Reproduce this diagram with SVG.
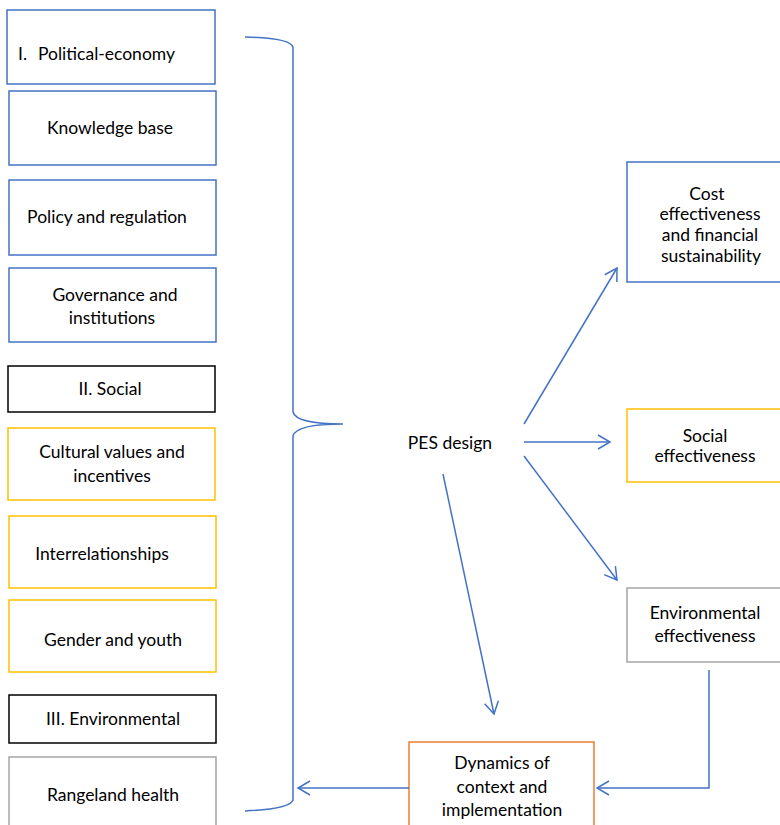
<svg xmlns="http://www.w3.org/2000/svg" width="780" height="825" viewBox="0 0 780 825">
<defs>
<marker id="ah" markerWidth="16" markerHeight="16" refX="13" refY="8" orient="auto" markerUnits="userSpaceOnUse">
<path d="M1,1 L13,8 L1,15" fill="none" stroke="#4472C4" stroke-width="1.5"/>
</marker>
<style>
rect{fill:#fff;stroke-width:1.5}
.b{stroke:#4472C4}.k{stroke:#000}.y{stroke:#FFC000}.g{stroke:#A5A5A5}.o{stroke:#ED7D31}
text{font-family:Lato,"Open Sans","DejaVu Sans",sans-serif;font-size:17.5px;fill:#000;text-anchor:middle}
.c{fill:none;stroke:#4472C4;stroke-width:1.5}
</style>
</defs>
<rect width="780" height="825" style="fill:#fff;stroke:none"/>
<g id="n1"><rect class="b" x="7" y="10" width="208" height="74"/><text x="18" y="60" style="text-anchor:start">I.</text><text x="38" y="60" style="text-anchor:start">Political-economy</text></g>
<g id="n2"><rect class="b" x="9" y="91" width="207" height="74"/><text x="110" y="134">Knowledge base</text></g>
<g id="n3"><rect class="b" x="9" y="180" width="207" height="75"/><text x="107" y="223">Policy and regulation</text></g>
<g id="n4"><rect class="b" x="9" y="268" width="207" height="74"/><text x="115" y="301">Governance and</text><text x="112" y="324">institutions</text></g>
<g id="n5"><rect class="k" x="8" y="366" width="207" height="46"/><text x="110" y="395">II. Social</text></g>
<g id="n6"><rect class="y" x="8" y="428" width="207" height="72"/><text x="112" y="458">Cultural values and</text><text x="112" y="482">incentives</text></g>
<g id="n7"><rect class="y" x="9" y="516" width="207" height="72"/><text x="102" y="560">Interrelationships</text></g>
<g id="n8"><rect class="y" x="9" y="600" width="207" height="72"/><text x="113" y="646">Gender and youth</text></g>
<g id="n9"><rect class="k" x="9" y="695" width="207" height="48"/><text x="113" y="725">III. Environmental</text></g>
<g id="n10"><rect class="g" x="9" y="757" width="207" height="80"/><text x="113" y="801">Rangeland health</text></g>
<g id="pes"><text x="450" y="449">PES design</text></g>
<g id="n11"><rect class="b" x="627" y="162" width="160" height="120"/><text x="707" y="200">Cost</text><text x="710" y="220">effectiveness</text><text x="710" y="241">and financial</text><text x="711" y="262">sustainability</text></g>
<g id="n12"><rect class="y" x="627" y="409" width="160" height="73"/><text x="705" y="442">Social</text><text x="705" y="462">effectiveness</text></g>
<g id="n13"><rect class="g" x="627" y="588" width="160" height="74"/><text x="705" y="619">Environmental</text><text x="705" y="642">effectiveness</text></g>
<g id="n14"><rect class="o" x="409" y="742" width="185" height="100"/><text x="502" y="769">Dynamics of</text><text x="502" y="793">context and</text><text x="502" y="816">implementation</text></g>
<g id="connectors">
<path class="c" d="M245,37 Q290,38 293,47 L293,412 Q296,424 343,424 Q296,424 293,436 L293,800 Q290,809 245,811"/>
<path class="c" d="M524,424 L617,268" marker-end="url(#ah)"/>
<path class="c" d="M524,442 L610,442" marker-end="url(#ah)"/>
<path class="c" d="M524,456 L617,580" marker-end="url(#ah)"/>
<path class="c" d="M443,474 L494,714" marker-end="url(#ah)"/>
<path class="c" d="M709,670 L709,788 L597,788" marker-end="url(#ah)"/>
<path class="c" d="M409,788 L298,788" marker-end="url(#ah)"/>
</g>
</svg>
